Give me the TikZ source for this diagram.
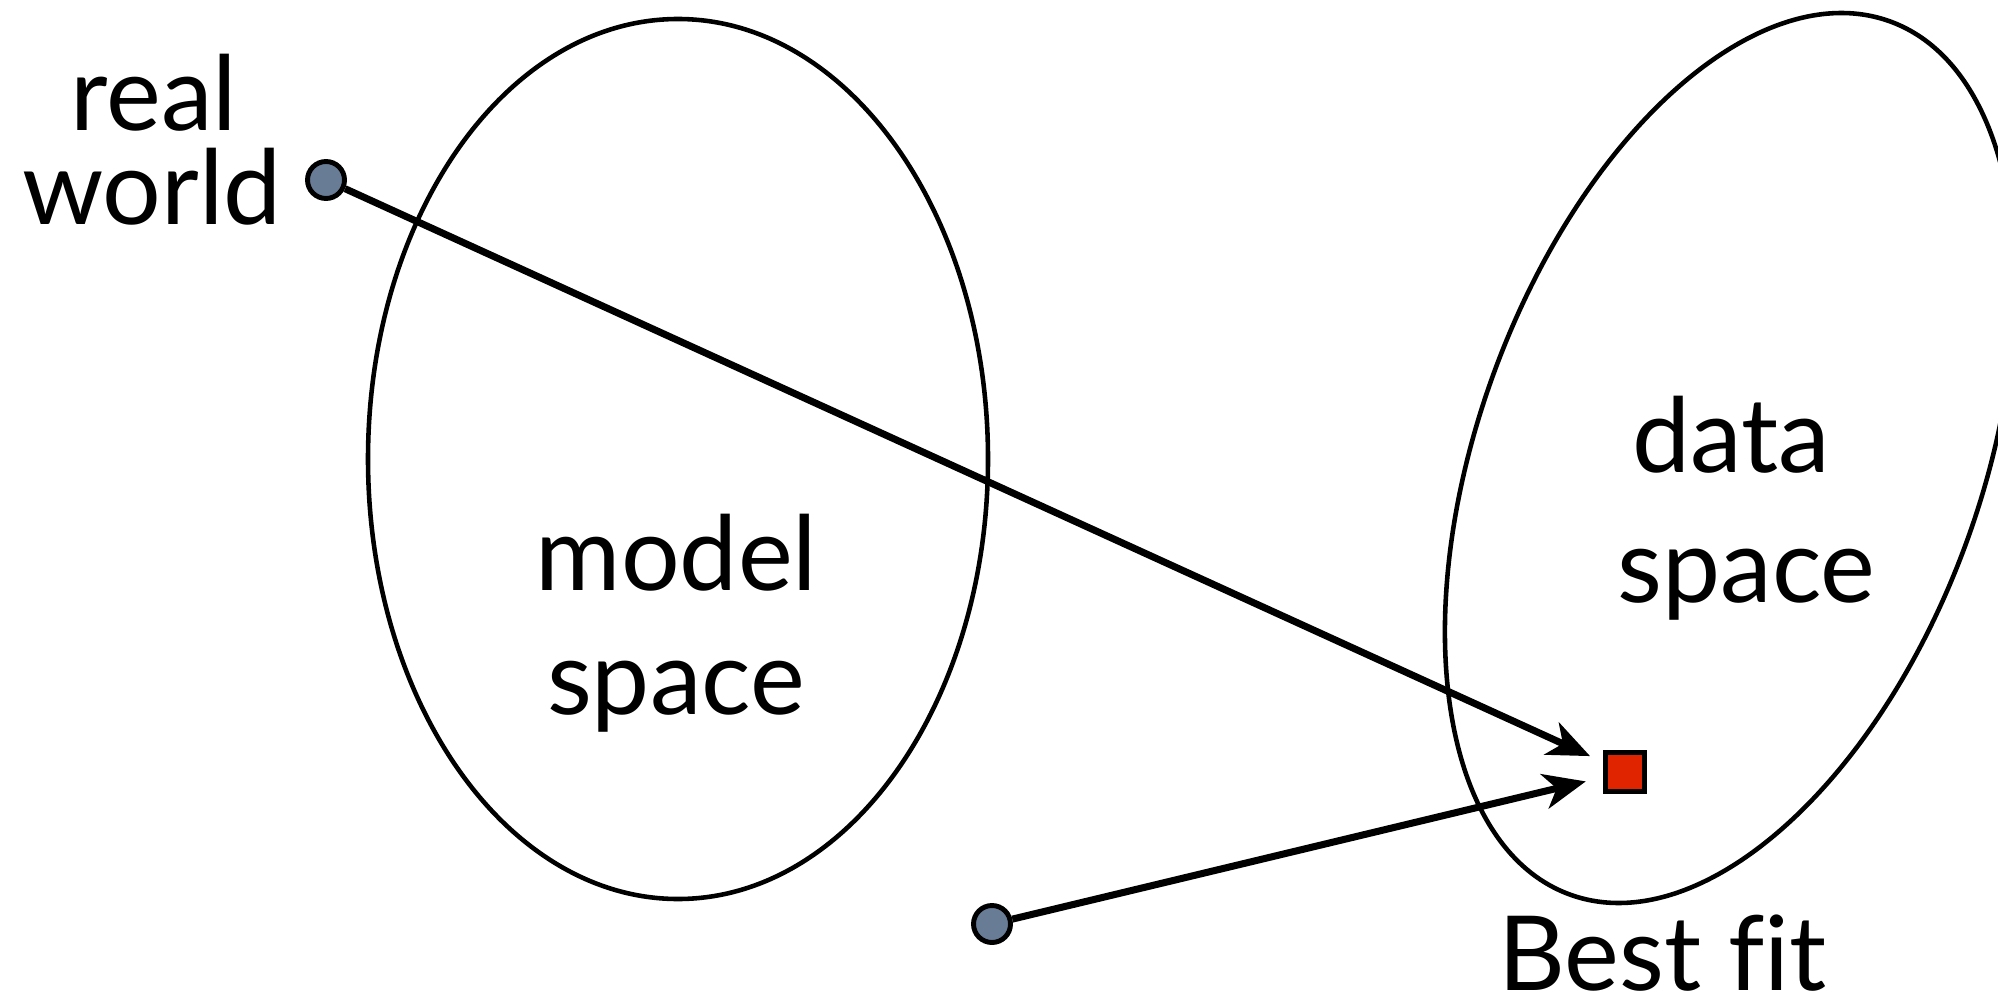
\documentclass[tikz,border=0pt]{standalone}
\usepackage{fontspec}
\setmainfont{Lato}[Ligatures=NoCommon]
\usetikzlibrary{arrows.meta}
\definecolor{dotblue}{RGB}{104,124,150}
\definecolor{fitred}{RGB}{225,36,0}

\begin{document}
\begin{tikzpicture}[
    every node/.style={font=\fontsize{29.5pt}{32pt}\selectfont},
    word/.style={anchor=base, inner sep=0pt},
    pointdot/.style={circle, draw=black, fill=dotblue, line width=1.4pt, minimum size=0.37cm, inner sep=0pt},
    fitbox/.style={rectangle, draw=black, fill=fitred, line width=1.5pt, minimum size=0.39cm, inner sep=0pt},
    maparrow/.style={line width=2pt, -{Stealth[length=12pt, width=10pt, inset=3.5pt]}}
  ]
  \useasboundingbox (0,0) rectangle (19.98,9.98);
  \clip (0,0) rectangle (19.98,9.98);
  % the two spaces
  \draw[line width=1.3pt] (6.78,5.39) ellipse (3.10 and 4.40);
  \draw[line width=1.3pt, shift={(17.30,5.40)}, rotate=69.8] (0,0) ellipse (4.65 and 2.51);
  % labels
  \node[word] (realtxt) at (1.54,8.67) {real};
  \node[word] (worldtxt) at (1.52,7.73) {world};
  \node[word] (modeltxt) at (6.765,4.08) {model};
  \node[word] (mspacetxt) at (6.76,2.84) {space};
  \node[word] (datatxt) at (17.315,5.26) {data};
  \node[word] (dspacetxt) at (17.465,3.96) {space};
  \node[word] (besttxt) at (16.625,0.08) {Best fit};
  % points
  \node[pointdot] (realdot) at (3.26,8.18) {};
  \node[pointdot] (modeldot) at (9.92,0.74) {};
  \node[fitbox] (best) at (16.25,2.26) {};
  % mappings into data space
  \draw[maparrow, shorten >=4pt] (realdot) -- (best);
  \draw[maparrow, shorten >=5pt] (modeldot) -- (best);
\end{tikzpicture}
\end{document}
